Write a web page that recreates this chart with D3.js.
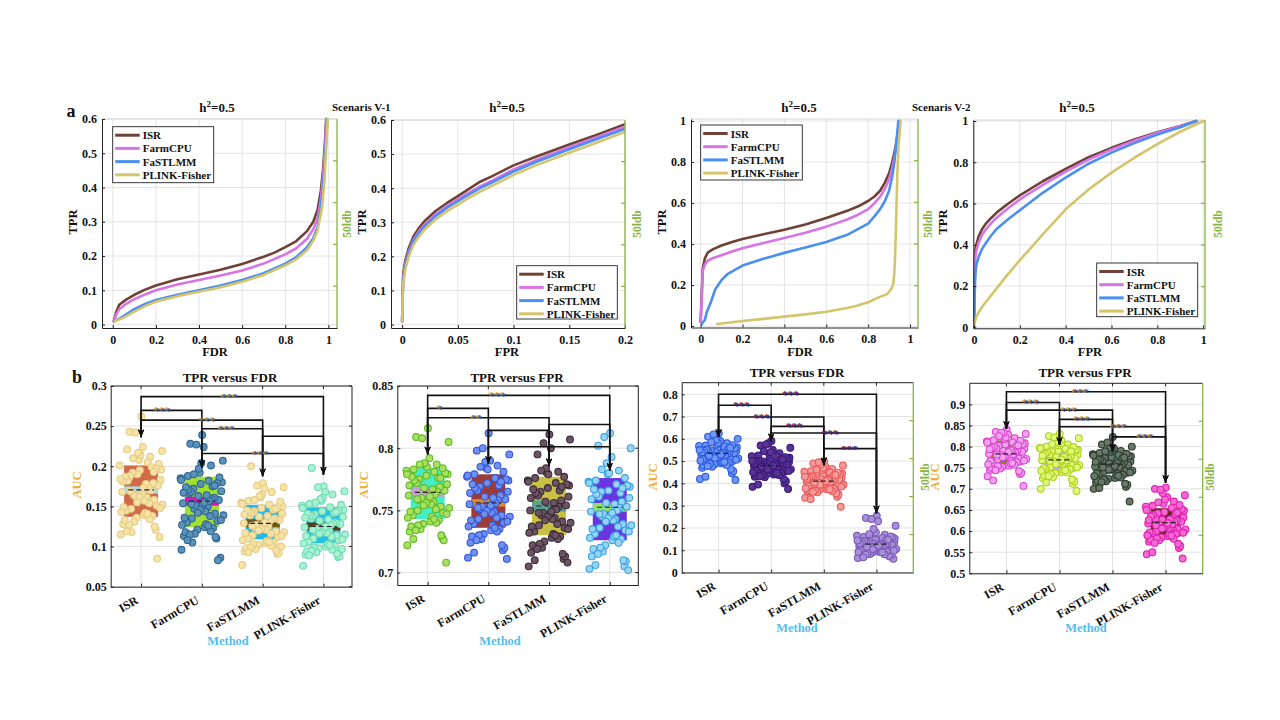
<!DOCTYPE html>
<html><head><meta charset="utf-8">
<script src="https://cdn.jsdelivr.net/npm/d3@7"></script>
<style>body{margin:0;background:#fff}svg{display:block}</style>
</head><body><svg id="c" width="1280" height="720"></svg>
<script>
// ---------------- DATA ----------------
const methods = ["ISR","FarmCPU","FaSTLMM","PLINK-Fisher"];
const curveColors = ["#6e4236","#d774e6","#4b8ff0","#d4c56c"];

// Scenario V-1 : TPR versus FDR  [FDR, TPR]
const v1FdrISR = [[0.005,0.01],[0.015,0.035],[0.03,0.058],[0.06,0.072],[0.1,0.087],[0.15,0.102],[0.2,0.114],[0.3,0.132],[0.4,0.146],[0.5,0.16],[0.6,0.177],[0.7,0.198],[0.75,0.21],[0.8,0.226],[0.85,0.243],[0.9,0.272],[0.93,0.3],[0.95,0.335],[0.965,0.39],[0.975,0.45],[0.983,0.52],[0.99,0.6]];
const v1FdrFarmCPU = [[0.005,0.01],[0.015,0.028],[0.03,0.045],[0.06,0.06],[0.1,0.074],[0.15,0.088],[0.2,0.1],[0.3,0.117],[0.4,0.13],[0.5,0.143],[0.6,0.158],[0.7,0.178],[0.8,0.205],[0.85,0.222],[0.9,0.25],[0.93,0.278],[0.95,0.31],[0.965,0.365],[0.975,0.43],[0.985,0.52],[0.99,0.6]];
const v1FdrFaSTLMM = [[0.01,0.01],[0.05,0.025],[0.1,0.045],[0.15,0.06],[0.2,0.072],[0.3,0.087],[0.4,0.1],[0.5,0.114],[0.6,0.13],[0.7,0.15],[0.8,0.178],[0.85,0.196],[0.9,0.225],[0.93,0.252],[0.95,0.285],[0.965,0.34],[0.978,0.42],[0.988,0.52],[0.995,0.6]];
const v1FdrPLINK = [[0.01,0.01],[0.05,0.02],[0.1,0.038],[0.15,0.054],[0.2,0.067],[0.3,0.083],[0.4,0.096],[0.5,0.109],[0.6,0.125],[0.7,0.145],[0.8,0.173],[0.85,0.19],[0.9,0.217],[0.93,0.245],[0.95,0.275],[0.97,0.34],[0.982,0.42],[0.99,0.52],[0.997,0.6]];

// Scenario V-1 : TPR versus FPR  [FPR, TPR]
const v1FprISR = [[0,0.01],[0.0005,0.1],[0.001,0.15],[0.003,0.19],[0.006,0.225],[0.01,0.258],[0.015,0.283],[0.02,0.303],[0.03,0.333],[0.04,0.356],[0.05,0.377],[0.06,0.398],[0.07,0.419],[0.08,0.434],[0.1,0.467],[0.12,0.492],[0.15,0.528],[0.175,0.557],[0.2,0.588]];
const v1FprFarmCPU = [[0,0.01],[0.0005,0.09],[0.001,0.14],[0.003,0.18],[0.006,0.215],[0.01,0.248],[0.015,0.273],[0.02,0.293],[0.03,0.323],[0.04,0.347],[0.05,0.367],[0.06,0.387],[0.07,0.405],[0.08,0.421],[0.1,0.455],[0.12,0.482],[0.15,0.52],[0.175,0.55],[0.2,0.58]];
const v1FprFaSTLMM = [[0,0.01],[0.0005,0.085],[0.001,0.13],[0.003,0.175],[0.006,0.21],[0.01,0.243],[0.015,0.268],[0.02,0.288],[0.03,0.318],[0.04,0.342],[0.05,0.362],[0.06,0.382],[0.07,0.4],[0.08,0.416],[0.1,0.449],[0.12,0.477],[0.15,0.514],[0.175,0.544],[0.2,0.574]];
const v1FprPLINK = [[0,0.01],[0.0005,0.08],[0.001,0.12],[0.003,0.165],[0.006,0.2],[0.01,0.233],[0.015,0.258],[0.02,0.278],[0.03,0.308],[0.04,0.332],[0.05,0.352],[0.06,0.372],[0.07,0.39],[0.08,0.406],[0.1,0.439],[0.12,0.467],[0.15,0.504],[0.175,0.534],[0.2,0.565]];

// Scenario V-2 : TPR versus FDR
const v2FdrISR = [[0,0.02],[0.005,0.15],[0.01,0.28],[0.02,0.33],[0.035,0.36],[0.06,0.375],[0.1,0.393],[0.15,0.41],[0.2,0.425],[0.3,0.448],[0.4,0.47],[0.5,0.495],[0.6,0.527],[0.7,0.562],[0.75,0.583],[0.8,0.61],[0.83,0.632],[0.857,0.66],[0.88,0.7],[0.9,0.745],[0.915,0.8],[0.93,0.87],[0.94,0.93],[0.949,1.0]];
const v2FdrFarmCPU = [[0,0.02],[0.005,0.14],[0.01,0.27],[0.02,0.3],[0.035,0.32],[0.06,0.332],[0.1,0.345],[0.15,0.364],[0.2,0.38],[0.3,0.405],[0.4,0.43],[0.5,0.455],[0.6,0.485],[0.7,0.52],[0.75,0.542],[0.8,0.57],[0.83,0.6],[0.86,0.635],[0.88,0.67],[0.9,0.715],[0.915,0.77],[0.93,0.85],[0.94,0.92],[0.948,1.0]];
const v2FdrFaSTLMM = [[0.005,0.01],[0.02,0.03],[0.03,0.07],[0.05,0.12],[0.07,0.18],[0.1,0.225],[0.13,0.255],[0.2,0.295],[0.3,0.328],[0.4,0.357],[0.5,0.383],[0.6,0.41],[0.7,0.445],[0.8,0.5],[0.83,0.535],[0.86,0.575],[0.88,0.61],[0.9,0.66],[0.915,0.73],[0.925,0.8],[0.935,0.9],[0.944,1.0]];
const v2FdrPLINK = [[0.08,0.01],[0.2,0.025],[0.3,0.035],[0.4,0.046],[0.5,0.057],[0.6,0.07],[0.7,0.088],[0.75,0.1],[0.8,0.116],[0.85,0.14],[0.89,0.155],[0.91,0.18],[0.92,0.205],[0.925,0.26],[0.928,0.32],[0.932,0.45],[0.936,0.62],[0.94,0.76],[0.945,0.88],[0.955,1.0]];

// Scenario V-2 : TPR versus FPR
const v2FprISR = [[0,0.02],[0.001,0.25],[0.003,0.33],[0.006,0.37],[0.01,0.4],[0.02,0.44],[0.035,0.475],[0.05,0.5],[0.075,0.53],[0.1,0.557],[0.15,0.6],[0.2,0.64],[0.3,0.708],[0.4,0.768],[0.5,0.825],[0.6,0.87],[0.7,0.91],[0.8,0.946],[0.9,0.976],[0.97,1.0]];
const v2FprFarmCPU = [[0,0.02],[0.001,0.22],[0.003,0.3],[0.006,0.34],[0.01,0.37],[0.02,0.41],[0.035,0.447],[0.05,0.472],[0.075,0.505],[0.1,0.532],[0.15,0.578],[0.2,0.62],[0.3,0.69],[0.4,0.755],[0.5,0.813],[0.6,0.862],[0.7,0.904],[0.8,0.943],[0.9,0.975],[0.97,1.0]];
const v2FprFaSTLMM = [[0,0.0],[0.002,0.1],[0.004,0.2],[0.007,0.27],[0.01,0.3],[0.02,0.34],[0.035,0.38],[0.05,0.405],[0.075,0.445],[0.1,0.478],[0.15,0.525],[0.2,0.567],[0.3,0.652],[0.4,0.726],[0.5,0.793],[0.6,0.847],[0.7,0.893],[0.8,0.935],[0.9,0.97],[0.97,1.0]];
const v2FprPLINK = [[0,0.01],[0.01,0.05],[0.03,0.09],[0.05,0.12],[0.1,0.19],[0.15,0.26],[0.2,0.325],[0.26,0.4],[0.3,0.45],[0.4,0.572],[0.5,0.668],[0.6,0.75],[0.7,0.822],[0.8,0.888],[0.9,0.948],[1.0,1.0]];

// tick values
const ticks01 = [0,0.2,0.4,0.6,0.8,1];
const ticksFpr02 = [0,0.05,0.1,0.15,0.2];
const ticksTpr06 = [0,0.1,0.2,0.3,0.4,0.5,0.6];
const aucTicksV1Fdr = [0.05,0.1,0.15,0.2,0.25,0.3];
const aucTicksV1Fpr = [0.7,0.75,0.8,0.85];
const aucTicksV2Fdr = [0,0.1,0.2,0.3,0.4,0.5,0.6,0.7,0.8];
const aucTicksV2Fpr = [0.5,0.55,0.6,0.65,0.7,0.75,0.8,0.85,0.9];

// AUC values per replicate (b panels)
const aucV1FdrISR = [0.172,0.243,0.151,0.195,0.128,0.212,0.165,0.183,0.139,0.221,0.158,0.19,0.115,0.205,0.147,0.176,0.262,0.133,0.199,0.163,0.219,0.142,0.185,0.121,0.208,0.168,0.154,0.192,0.112,0.224,0.145,0.179,0.136,0.201,0.161,0.188,0.085,0.214,0.149,0.17,0.131,0.196,0.157,0.182,0.125,0.217,0.143,0.174,0.118,0.203,0.166,0.187,0.138,0.242,0.152,0.178,0.127,0.197,0.162,0.181,0.134,0.21,0.148,0.173,0.119,0.193,0.155,0.184,0.141,0.169];
const aucV1FdrFarmCPU = [0.156,0.228,0.132,0.178,0.113,0.201,0.147,0.169,0.124,0.188,0.141,0.163,0.096,0.182,0.135,0.158,0.239,0.118,0.175,0.151,0.207,0.128,0.166,0.11,0.192,0.154,0.138,0.172,0.086,0.224,0.13,0.161,0.121,0.185,0.149,0.168,0.083,0.204,0.136,0.159,0.116,0.18,0.144,0.171,0.112,0.197,0.127,0.157,0.105,0.186,0.152,0.174,0.123,0.227,0.139,0.164,0.115,0.179,0.146,0.167,0.119,0.19,0.133,0.155,0.108,0.176,0.142,0.183,0.126,0.153];
const aucV1FdrFaSTLMM = [0.131,0.2,0.112,0.148,0.094,0.168,0.124,0.141,0.104,0.157,0.119,0.137,0.077,0.152,0.114,0.133,0.179,0.098,0.146,0.127,0.174,0.107,0.139,0.091,0.161,0.129,0.116,0.144,0.1,0.172,0.11,0.135,0.102,0.155,0.125,0.142,0.092,0.165,0.117,0.134,0.097,0.15,0.121,0.143,0.095,0.163,0.108,0.132,0.103,0.156,0.128,0.145,0.105,0.176,0.118,0.138,0.099,0.149,0.122,0.14,0.101,0.158,0.113,0.13,0.093,0.147,0.12,0.153,0.106,0.126];
const aucV1FdrPLINK = [0.126,0.198,0.108,0.144,0.09,0.165,0.119,0.137,0.1,0.153,0.114,0.132,0.076,0.149,0.11,0.128,0.175,0.094,0.142,0.122,0.169,0.103,0.135,0.087,0.157,0.124,0.112,0.14,0.097,0.168,0.106,0.13,0.098,0.151,0.12,0.138,0.088,0.161,0.113,0.129,0.093,0.146,0.117,0.139,0.091,0.159,0.104,0.127,0.099,0.152,0.123,0.141,0.101,0.174,0.115,0.134,0.095,0.145,0.118,0.136,0.096,0.155,0.109,0.125,0.089,0.143,0.116,0.148,0.102,0.121];

const aucV1FprISR = [0.764,0.809,0.748,0.778,0.733,0.787,0.758,0.771,0.741,0.783,0.753,0.768,0.722,0.781,0.75,0.766,0.816,0.737,0.776,0.76,0.805,0.745,0.773,0.728,0.786,0.762,0.751,0.775,0.708,0.792,0.746,0.769,0.739,0.782,0.757,0.772,0.726,0.785,0.749,0.765,0.735,0.779,0.755,0.774,0.73,0.788,0.744,0.763,0.738,0.78,0.759,0.777,0.742,0.808,0.752,0.767,0.734,0.784,0.756,0.77,0.74,0.787,0.747,0.761,0.727,0.776,0.754,0.779,0.743,0.759];
const aucV1FprFarmCPU = [0.757,0.798,0.74,0.772,0.724,0.786,0.751,0.765,0.734,0.779,0.746,0.761,0.712,0.776,0.743,0.759,0.812,0.729,0.77,0.753,0.795,0.738,0.767,0.718,0.784,0.755,0.744,0.769,0.711,0.79,0.739,0.762,0.731,0.777,0.749,0.766,0.72,0.783,0.742,0.758,0.727,0.774,0.748,0.768,0.722,0.789,0.737,0.756,0.73,0.775,0.752,0.771,0.735,0.8,0.745,0.76,0.726,0.781,0.75,0.764,0.733,0.785,0.741,0.754,0.716,0.773,0.747,0.778,0.736,0.752];
const aucV1FprFaSTLMM = [0.752,0.795,0.736,0.768,0.716,0.781,0.746,0.761,0.728,0.776,0.741,0.757,0.705,0.772,0.738,0.754,0.811,0.722,0.766,0.748,0.807,0.731,0.763,0.711,0.78,0.75,0.739,0.765,0.708,0.8,0.733,0.758,0.725,0.774,0.744,0.762,0.713,0.779,0.737,0.753,0.72,0.77,0.743,0.764,0.715,0.784,0.732,0.751,0.723,0.771,0.747,0.767,0.729,0.804,0.74,0.756,0.719,0.777,0.745,0.76,0.727,0.782,0.735,0.749,0.71,0.769,0.742,0.773,0.73,0.748];
const aucV1FprPLINK = [0.751,0.802,0.734,0.766,0.713,0.782,0.745,0.76,0.726,0.774,0.739,0.756,0.703,0.771,0.736,0.753,0.812,0.719,0.764,0.747,0.8,0.729,0.762,0.705,0.779,0.749,0.737,0.765,0.702,0.793,0.731,0.757,0.722,0.773,0.743,0.761,0.709,0.78,0.735,0.752,0.717,0.769,0.742,0.763,0.71,0.788,0.728,0.75,0.72,0.77,0.746,0.767,0.727,0.809,0.738,0.755,0.715,0.776,0.744,0.759,0.724,0.783,0.733,0.748,0.706,0.768,0.741,0.772,0.73,0.747];

const aucV2FdrISR = [0.53,0.61,0.5,0.56,0.47,0.58,0.52,0.545,0.49,0.57,0.515,0.54,0.42,0.565,0.505,0.535,0.625,0.48,0.555,0.525,0.6,0.495,0.55,0.445,0.575,0.528,0.51,0.548,0.415,0.59,0.498,0.538,0.485,0.568,0.518,0.542,0.455,0.582,0.508,0.532,0.475,0.562,0.522,0.552,0.465,0.595,0.502,0.527,0.488,0.558,0.52,0.546,0.492,0.62,0.512,0.536,0.478,0.572,0.516,0.54,0.483,0.585,0.506,0.53,0.43,0.56,0.514,0.55,0.496,0.524];
const aucV2FdrFarmCPU = [0.48,0.57,0.455,0.51,0.43,0.535,0.47,0.495,0.44,0.525,0.465,0.49,0.385,0.52,0.46,0.485,0.59,0.435,0.505,0.475,0.56,0.448,0.5,0.4,0.53,0.478,0.462,0.498,0.375,0.55,0.452,0.488,0.442,0.522,0.468,0.492,0.41,0.54,0.458,0.482,0.428,0.515,0.472,0.502,0.42,0.58,0.45,0.477,0.438,0.512,0.47,0.497,0.445,0.575,0.463,0.486,0.432,0.518,0.466,0.49,0.437,0.545,0.456,0.48,0.395,0.508,0.464,0.5,0.447,0.474];
const aucV2FdrFaSTLMM = [0.41,0.49,0.385,0.44,0.365,0.465,0.4,0.425,0.375,0.455,0.395,0.42,0.335,0.45,0.39,0.415,0.5,0.37,0.435,0.405,0.48,0.38,0.43,0.34,0.46,0.408,0.392,0.428,0.295,0.475,0.382,0.418,0.372,0.452,0.398,0.422,0.35,0.47,0.388,0.412,0.36,0.445,0.402,0.432,0.355,0.485,0.378,0.406,0.368,0.442,0.4,0.426,0.376,0.495,0.394,0.416,0.362,0.448,0.396,0.42,0.366,0.462,0.386,0.41,0.33,0.438,0.394,0.43,0.374,0.404];
const aucV2FdrPLINK = [0.12,0.245,0.1,0.15,0.085,0.17,0.113,0.135,0.093,0.16,0.108,0.13,0.065,0.155,0.104,0.125,0.255,0.088,0.145,0.117,0.21,0.097,0.14,0.072,0.175,0.119,0.102,0.138,0.062,0.23,0.095,0.128,0.09,0.165,0.11,0.133,0.078,0.18,0.1,0.122,0.083,0.152,0.114,0.142,0.075,0.195,0.092,0.118,0.087,0.158,0.111,0.136,0.094,0.24,0.106,0.127,0.08,0.162,0.109,0.131,0.082,0.172,0.098,0.121,0.068,0.148,0.105,0.144,0.091,0.115];

const aucV2FprISR = [0.785,0.835,0.765,0.805,0.745,0.82,0.778,0.795,0.755,0.815,0.772,0.79,0.73,0.81,0.768,0.788,0.84,0.75,0.8,0.78,0.83,0.76,0.798,0.735,0.818,0.783,0.77,0.802,0.707,0.828,0.762,0.792,0.752,0.812,0.776,0.796,0.738,0.822,0.766,0.786,0.748,0.808,0.774,0.8,0.742,0.832,0.758,0.782,0.754,0.806,0.779,0.797,0.763,0.833,0.771,0.791,0.744,0.814,0.777,0.794,0.757,0.825,0.767,0.787,0.72,0.803,0.775,0.81,0.761,0.781];
const aucV2FprFarmCPU = [0.77,0.825,0.75,0.79,0.725,0.805,0.762,0.78,0.74,0.8,0.757,0.775,0.7,0.795,0.752,0.772,0.83,0.732,0.785,0.765,0.82,0.745,0.782,0.712,0.803,0.768,0.755,0.788,0.695,0.815,0.747,0.777,0.737,0.797,0.76,0.781,0.718,0.808,0.749,0.771,0.728,0.792,0.758,0.786,0.722,0.812,0.743,0.767,0.735,0.793,0.763,0.783,0.746,0.822,0.756,0.776,0.73,0.799,0.761,0.779,0.739,0.806,0.751,0.769,0.715,0.789,0.759,0.796,0.744,0.766];
const aucV2FprFaSTLMM = [0.755,0.805,0.738,0.775,0.715,0.79,0.748,0.765,0.726,0.785,0.744,0.76,0.7,0.78,0.74,0.757,0.823,0.72,0.772,0.75,0.8,0.732,0.768,0.705,0.787,0.753,0.742,0.773,0.67,0.795,0.735,0.762,0.724,0.782,0.746,0.766,0.71,0.792,0.737,0.756,0.718,0.777,0.745,0.77,0.712,0.798,0.73,0.752,0.722,0.778,0.749,0.769,0.733,0.81,0.743,0.761,0.716,0.783,0.747,0.764,0.727,0.789,0.739,0.754,0.702,0.774,0.746,0.779,0.731,0.751];
const aucV2FprPLINK = [0.62,0.7,0.598,0.645,0.575,0.67,0.61,0.632,0.588,0.66,0.605,0.627,0.545,0.655,0.6,0.622,0.703,0.58,0.64,0.615,0.685,0.592,0.637,0.56,0.665,0.618,0.602,0.642,0.535,0.68,0.595,0.625,0.585,0.658,0.608,0.63,0.565,0.675,0.597,0.621,0.578,0.648,0.607,0.638,0.57,0.69,0.59,0.617,0.583,0.652,0.612,0.635,0.593,0.698,0.604,0.628,0.572,0.662,0.609,0.626,0.582,0.668,0.596,0.619,0.55,0.644,0.606,0.65,0.589,0.614];

// box (interquartile) and median band bounds
const boxLoV1Fdr = [0.137,0.124,0.109,0.104], boxHiV1Fdr = [0.201,0.187,0.152,0.149];
const bandLoV1Fdr = [0.166,0.151,0.124,0.12], bandHiV1Fdr = [0.175,0.162,0.134,0.13];
const boxLoV1Fpr = [0.743,0.736,0.73,0.726], boxHiV1Fpr = [0.784,0.779,0.777,0.776];
const bandLoV1Fpr = [0.761,0.753,0.749,0.749], bandHiV1Fpr = [0.768,0.759,0.758,0.756];
const boxLoV2Fdr = [0.5,0.45,0.38,0.1], boxHiV2Fdr = [0.56,0.51,0.44,0.165];
const bandLoV2Fdr = [0.525,0.47,0.4,0.12], bandHiV2Fdr = [0.545,0.49,0.42,0.135];
const boxLoV2Fpr = [0.756,0.742,0.735,0.587], boxHiV2Fpr = [0.815,0.795,0.79,0.654];
const bandLoV2Fpr = [0.776,0.762,0.752,0.612], bandHiV2Fpr = [0.79,0.775,0.765,0.628];

// significance comparisons: [groupA, groupB, bracket level, label position, label]
const sigV1Fdr = [[1,4,0.2868,2.45,"***"],[1,2,0.2696,1.35,"***"],[1,3,0.2575,2.09,"***"],[2,3,0.2468,2.4,"***"],[3,4,0.2375,0,""],[2,4,0.2159,2.96,"***"]];
const tipV1Fdr = [0.2362,0.198,0.1875,0.1896];
const sigV1Fpr = [[1,4,0.8425,2.15,"***"],[1,2,0.832,1.2,"*"],[1,3,0.8245,1.8,"**"],[2,3,0.8143,0,""],[3,4,0.8191,0,""],[2,4,0.8011,0,""]];
const tipV1Fpr = [0.795,0.7874,0.7855,0.782];
const sigV2Fdr = [[1,4,0.8,2.376,"***"],[1,2,0.7507,1.445,"***"],[1,3,0.698,1.825,"***"],[2,3,0.656,2.45,"***"],[2,4,0.626,3.13,"***"],[3,4,0.556,3.49,"***"]];
const tipV2Fdr = [0.608,0.589,0.481,0.265];
const sigV2Fpr = [[1,4,0.9299,2.39,"***"],[1,2,0.9047,1.46,"***"],[1,3,0.8865,2.18,"***"],[2,3,0.8645,2.425,"***"],[2,4,0.847,3.11,"***"],[3,4,0.8232,3.61,"***"]];
const tipV2Fpr = [0.842,0.8036,0.788,0.714];

// ---------------- DRAWING ----------------
const FONT = '"Liberation Serif","Times New Roman",serif';
const svg = d3.select("#c");
const defs = svg.append("defs");
defs.append("marker").attr("id","arr").attr("viewBox","0 0 10 8").attr("refX",10).attr("refY",4)
  .attr("markerWidth",8).attr("markerHeight",6.4).attr("markerUnits","userSpaceOnUse")
  .attr("orient","auto-start-reverse")
  .append("path").attr("d","M0,0 L10,4 L0,8 L3,4 Z").attr("fill","#111");
let clipN = 0;
const fmt = d => String(+d.toFixed(3));
const GREEN = "#86b540";

function txt(x,y,s,o={}){
  const t = svg.append("text").attr("x",x).attr("y",y).text(s)
    .attr("font-family",FONT).attr("font-weight","bold").attr("font-size",o.size||12)
    .attr("fill",o.fill||"#111").attr("text-anchor",o.anchor||"middle");
  if(o.rot){ t.attr("transform",`rotate(${o.rot},${x},${y})`).attr("dy","0.35em"); }
  return t;
}
function hTitle(cx,y){
  const t = svg.append("text").attr("x",cx).attr("y",y).attr("text-anchor","middle")
    .attr("font-family",FONT).attr("font-weight","bold").attr("font-size",13).attr("fill","#111");
  t.append("tspan").text("h");
  t.append("tspan").attr("dy",-5).attr("font-size",9).text("2");
  t.append("tspan").attr("dy",5).text("=0.5");
}
function styleAxis(a){
  a.attr("font-family",FONT).attr("font-size",12).attr("font-weight","bold");
  a.selectAll("text").attr("fill","#111");
  a.select(".domain").attr("stroke","#222");
  a.selectAll(".tick line").attr("stroke","#222");
}
function greenAxis(g,xr,t,b){
  g.append("line").attr("x1",xr).attr("x2",xr).attr("y1",t).attr("y2",b).attr("stroke",GREEN).attr("stroke-width",1.3);
  [0.2,0.4,0.6,0.8].forEach(f=>{
    const yy = b-(b-t)*f;
    g.append("line").attr("x1",xr-4).attr("x2",xr).attr("y1",yy).attr("y2",yy).attr("stroke",GREEN).attr("stroke-width",1.2);
  });
}

function curvePanel(c){
  const g = svg.append("g");
  const x = d3.scaleLinear().domain(c.xd).range([c.l,c.r]);
  const y = d3.scaleLinear().domain(c.yd).range([c.b,c.t]);
  g.selectAll(null).data(c.xt).join("line").attr("x1",d=>x(d)).attr("x2",d=>x(d)).attr("y1",c.t).attr("y2",c.b).attr("stroke","#e4e4e4");
  g.selectAll(null).data(c.yt).join("line").attr("x1",c.l).attr("x2",c.r).attr("y1",d=>y(d)).attr("y2",d=>y(d)).attr("stroke","#e4e4e4");
  g.append("line").attr("x1",c.l).attr("x2",c.r).attr("y1",c.t).attr("y2",c.t).attr("stroke","#d6d6d6");
  const id = "clip"+(clipN++);
  defs.append("clipPath").attr("id",id).append("rect").attr("x",c.l).attr("y",c.t-2).attr("width",c.r-c.l).attr("height",c.b-c.t+2);
  const line = d3.line().x(d=>x(d[0])).y(d=>y(d[1]));
  g.append("g").attr("clip-path",`url(#${id})`).selectAll("path").data(c.series).join("path")
    .attr("d",line).attr("fill","none").attr("stroke",(d,i)=>curveColors[i]).attr("stroke-width",2.6)
    .attr("stroke-linejoin","round").attr("stroke-linecap","round");
  const ax = g.append("g").attr("transform",`translate(0,${c.b})`)
    .call(d3.axisBottom(x).tickValues(c.xt).tickSizeInner(-3).tickSizeOuter(0).tickPadding(7).tickFormat(fmt));
  const ay = g.append("g").attr("transform",`translate(${c.l},0)`)
    .call(d3.axisLeft(y).tickValues(c.yt).tickSizeInner(-3).tickSizeOuter(0).tickPadding(5).tickFormat(fmt));
  styleAxis(ax); styleAxis(ay);
  greenAxis(g,c.r,c.t,c.b);
  // legend
  const lg = g.append("g").attr("transform",`translate(${c.lx},${c.ly})`);
  lg.append("rect").attr("width",c.lw).attr("height",c.lh).attr("fill","#fff").attr("stroke","#222").attr("stroke-width",0.9);
  methods.forEach((m,i)=>{
    const yy = 8.5 + i*13.2;
    lg.append("line").attr("x1",2.5).attr("x2",27).attr("y1",yy).attr("y2",yy).attr("stroke",curveColors[i]).attr("stroke-width",3);
    lg.append("text").attr("x",30).attr("y",yy+4).text(m).attr("font-family",FONT).attr("font-weight","bold").attr("font-size",11).attr("fill","#111");
  });
}

function boxPanel(c){
  const g = svg.append("g");
  const x = d3.scaleLinear().domain(c.xd).range([c.l,c.r]);
  const y = d3.scaleLinear().domain(c.yd).range([c.b,c.t]);
  const cats = [1,2,3,4];
  g.selectAll(null).data(cats).join("line").attr("x1",d=>x(d)).attr("x2",d=>x(d)).attr("y1",c.t).attr("y2",c.b).attr("stroke","#e2e2e2");
  g.selectAll(null).data(c.yt).join("line").attr("x1",c.l).attr("x2",c.r).attr("y1",d=>y(d)).attr("y2",d=>y(d)).attr("stroke","#e2e2e2");
  const bw = 0.28;
  cats.forEach((k,i)=>{
    g.append("rect").attr("x",x(k-bw)).attr("width",x(k+bw)-x(k-bw)).attr("y",y(c.boxHi[i])).attr("height",y(c.boxLo[i])-y(c.boxHi[i])).attr("fill",c.boxC[i]);
    g.append("rect").attr("x",x(k-bw)).attr("width",x(k+bw)-x(k-bw)).attr("y",y(c.bandHi[i])).attr("height",y(c.bandLo[i])-y(c.bandHi[i])).attr("fill",c.bandC[i]);
  });
  cats.forEach((k,i)=>{
    g.append("g").selectAll("circle").data(c.pts[i]).join("circle")
      .attr("cx",(d,j)=>x(k + ((((j+1)*0.6180339887)%1)-0.5)*2*c.jw))
      .attr("cy",d=>y(d)).attr("r",3.4)
      .attr("fill",c.ptF[i]).attr("stroke",c.ptS[i]).attr("stroke-width",1.1);
  });
  cats.forEach((k,i)=>{
    const m = (c.bandLo[i]+c.bandHi[i])/2;
    g.append("line").attr("x1",x(k-bw*0.75)).attr("x2",x(k+bw*0.75)).attr("y1",y(m)).attr("y2",y(m))
      .attr("stroke","#222").attr("stroke-width",1.2).attr("stroke-dasharray","5,3");
  });
  // brackets
  c.sig.forEach(([a,b,lev,lx,lab])=>{
    g.append("path").attr("d",`M${x(a)},${y(c.tips[a-1])}V${y(lev)}H${x(b)}V${y(c.tips[b-1])}`)
      .attr("fill","none").attr("stroke","#111").attr("stroke-width",1.6)
      .attr("marker-start","url(#arr)").attr("marker-end","url(#arr)");
    if(lab){
      const px = x(lx), py = y(lev)+4;
      g.append("text").attr("x",px-0.8).attr("y",py).text(lab).attr("text-anchor","middle")
        .attr("font-family",FONT).attr("font-weight","bold").attr("font-size",11).attr("fill",c.starA);
      g.append("text").attr("x",px+0.6).attr("y",py+0.5).text(lab).attr("text-anchor","middle")
        .attr("font-family",FONT).attr("font-weight","bold").attr("font-size",11).attr("fill",c.starB).attr("opacity",0.85);
    }
  });
  // frame & axes
  const ay = g.append("g").attr("transform",`translate(${c.l},0)`)
    .call(d3.axisLeft(y).tickValues(c.yt).tickSizeInner(-3).tickSizeOuter(0).tickPadding(4).tickFormat(fmt));
  styleAxis(ay);
  const ax = g.append("g").attr("transform",`translate(0,${c.b})`)
    .call(d3.axisBottom(x).tickValues(cats).tickSizeInner(-3).tickSizeOuter(0).tickFormat(""));
  styleAxis(ax);
  g.append("line").attr("x1",c.l).attr("x2",c.r).attr("y1",c.t).attr("y2",c.t).attr("stroke","#222");
  cats.forEach(k=>g.append("line").attr("x1",x(k)).attr("x2",x(k)).attr("y1",c.t).attr("y2",c.t+3).attr("stroke","#222"));
  if(c.green){ greenAxis(g,c.r,c.t,c.b); }
  else {
    g.append("line").attr("x1",c.r).attr("x2",c.r).attr("y1",c.t).attr("y2",c.b).attr("stroke","#222");
    c.yt.forEach(v=>g.append("line").attr("x1",c.r-3).attr("x2",c.r).attr("y1",y(v)).attr("y2",y(v)).attr("stroke","#222"));
  }
  methods.forEach((m,i)=>{
    const px = x(i+1)-2, py = c.b+16;
    g.append("text").attr("transform",`translate(${px},${py}) rotate(-30)`).attr("text-anchor","end")
      .attr("font-family",FONT).attr("font-weight","bold").attr("font-size",12).attr("fill","#111").text(m);
  });
}

// ---- panel a ----
curvePanel({l:102,r:337,t:119,b:328,xd:[-0.05,1.04],yd:[-0.01,0.6],xt:ticks01,yt:ticksTpr06,
  series:[v1FdrISR,v1FdrFarmCPU,v1FdrFaSTLMM,v1FdrPLINK],lx:112.7,ly:126.7,lw:101,lh:56});
curvePanel({l:391,r:625,t:120,b:328,xd:[-0.01,0.2],yd:[-0.01,0.6],xt:ticksFpr02,yt:ticksTpr06,
  series:[v1FprISR,v1FprFarmCPU,v1FprFaSTLMM,v1FprPLINK],lx:516.7,ly:265.7,lw:100.6,lh:53.3});
curvePanel({l:691,r:918,t:119,b:327.5,xd:[-0.046,1.038],yd:[-0.007,1.01],xt:ticks01,yt:ticks01,
  series:[v2FdrISR,v2FdrFarmCPU,v2FdrFaSTLMM,v2FdrPLINK],lx:700.7,ly:125,lw:101.6,lh:55});
curvePanel({l:973.3,r:1205,t:120,b:328.3,xd:[-0.003,1.008],yd:[-0.005,1.005],xt:ticks01,yt:ticks01,
  series:[v2FprISR,v2FprFarmCPU,v2FprFaSTLMM,v2FprPLINK],lx:1096.7,ly:263,lw:101,lh:53.7});

txt(71,117,"a",{size:18});
hTitle(217,112); hTitle(507,112); hTitle(799,112); hTitle(1077,112);
txt(332,111,"Scenaris V-1",{size:11,anchor:"start"});
txt(912,111,"Scenaris V-2",{size:11,anchor:"start"});
[73,362,662,943].forEach(px=>txt(px,222,"TPR",{size:12.5,rot:-90}));
[347,637,928,1218].forEach(px=>txt(px,224,"50ldb",{size:11.5,rot:-90,fill:GREEN}));
txt(215,356,"FDR",{size:12.5}); txt(507,356,"FPR",{size:12.5});
txt(800,356,"FDR",{size:12.5}); txt(1090,356,"FPR",{size:12.5});

// ---- panel b ----
boxPanel({l:110.7,r:352,t:386,b:586.7,xd:[0.5,4.47],yd:[0.05,0.3],yt:aucTicksV1Fdr,jw:0.36,
  pts:[aucV1FdrISR,aucV1FdrFarmCPU,aucV1FdrFaSTLMM,aucV1FdrPLINK],
  boxLo:boxLoV1Fdr,boxHi:boxHiV1Fdr,bandLo:bandLoV1Fdr,bandHi:bandHiV1Fdr,
  boxC:["#d06a48","#a0e030","#22b8e8","#22c0e8"],bandC:["#a8dce0","#e010c0","#6a5a18","#5a3a10"],
  ptF:["#f6e3a8","#5a92bc","#f6e3a8","#a8f2d4"],ptS:["#e6cc84","#2f6690","#e6cc84","#70dab4"],
  sig:sigV1Fdr,tips:tipV1Fdr,starA:"#e39a1e",starB:"#1d4f96",green:false});
boxPanel({l:397.3,r:638.3,t:386,b:585,xd:[0.5,4.47],yd:[0.69,0.85],yt:aucTicksV1Fpr,jw:0.36,
  pts:[aucV1FprISR,aucV1FprFarmCPU,aucV1FprFaSTLMM,aucV1FprPLINK],
  boxLo:boxLoV1Fpr,boxHi:boxHiV1Fpr,bandLo:bandLoV1Fpr,bandHi:bandHiV1Fpr,
  boxC:["#44eec4","#9c3c3a","#c8c044","#6a34e0"],bandC:["#c8a0d8","#e08a30","#5aa090","#90e070"],
  ptF:["#a8e060","#7090f0","#6c5464","#98d4f4"],ptS:["#62b828","#3358d8","#3b2b39","#3aa2e2"],
  sig:sigV1Fpr,tips:tipV1Fpr,starA:"#e39a1e",starB:"#1d4f96",green:false});
boxPanel({l:681.7,r:913.3,t:382.7,b:572.5,xd:[0.3,4.7],yd:[0,0.852],yt:aucTicksV2Fdr,jw:0.38,
  pts:[aucV2FdrISR,aucV2FdrFarmCPU,aucV2FdrFaSTLMM,aucV2FdrPLINK],
  boxLo:boxLoV2Fdr,boxHi:boxHiV2Fdr,bandLo:bandLoV2Fdr,bandHi:bandHiV2Fdr,
  boxC:["#2f5fe0","#6a34b8","#f07878","#b8dce2"],bandC:["#2050c0","#8040d0","#e05050","#a0c8d0"],
  ptF:["#7097f6","#5a3494","#f59a9a","#a890d8"],ptS:["#2a5ae0","#3a1a78","#e85a5a","#7a58b8"],
  sig:sigV2Fdr,tips:tipV2Fdr,starA:"#8a1538",starB:"#1e2f7a",green:true});
boxPanel({l:969.3,r:1202.7,t:383.3,b:573.3,xd:[0.3,4.7],yd:[0.5,0.95],yt:aucTicksV2Fpr,jw:0.38,
  pts:[aucV2FprISR,aucV2FprFarmCPU,aucV2FprFaSTLMM,aucV2FprPLINK],
  boxLo:boxLoV2Fpr,boxHi:boxHiV2Fpr,bandLo:bandLoV2Fpr,bandHi:bandHiV2Fpr,
  boxC:["#7a8a1a","#c2a8e8","#2aa080","#5a2a12"],bandC:["#9a9a28","#b090d8","#209070","#3a1a08"],
  ptF:["#f3a0f0","#e0f878","#687868","#f46ad4"],ptS:["#d846d0","#b0d020","#2f3d2f","#e020b0"],
  sig:sigV2Fpr,tips:tipV2Fpr,starA:"#e39a1e",starB:"#1d3f86",green:true});

txt(77,383,"b",{size:18});
txt(230,382,"TPR versus FDR",{size:13}); txt(517,382,"TPR versus FPR",{size:13});
txt(797,377,"TPR versus FDR",{size:13}); txt(1085,377,"TPR versus FPR",{size:13});
[[77,485],[364,485],[653,477],[935,477]].forEach(([px,py])=>txt(px,py,"AUC",{size:12.5,rot:-90,fill:"#f2a92c"}));
[925,1210].forEach(px=>txt(px,477,"50ldb",{size:11.5,rot:-90,fill:GREEN}));
txt(228,645,"Method",{size:12.5,fill:"#56bdf0"}); txt(500,645,"Method",{size:12.5,fill:"#56bdf0"});
txt(797,632,"Method",{size:12.5,fill:"#56bdf0"}); txt(1086,632,"Method",{size:12.5,fill:"#56bdf0"});
</script></body></html>
